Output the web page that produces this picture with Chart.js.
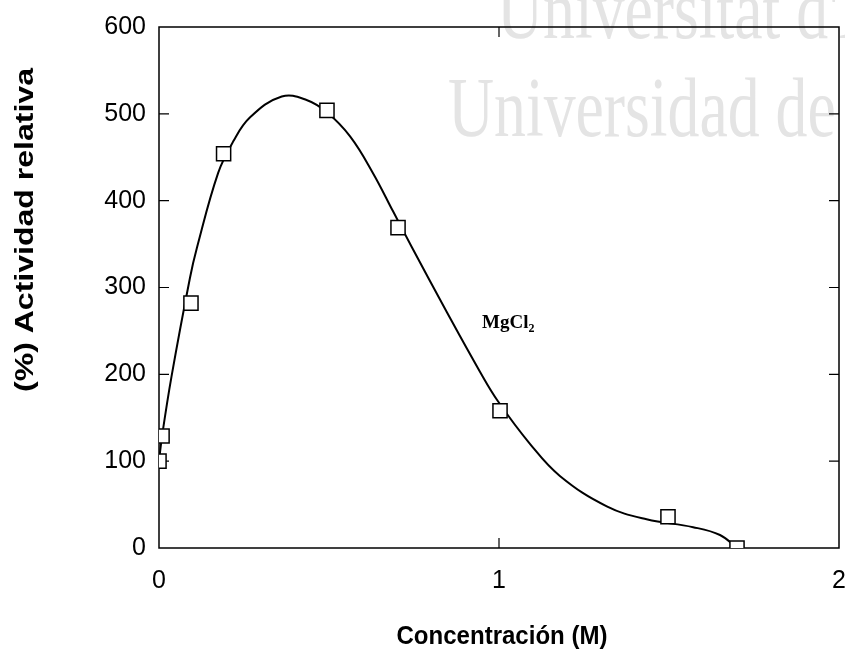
<!DOCTYPE html>
<html>
<head>
<meta charset="utf-8">
<script src="https://cdn.jsdelivr.net/npm/chart.js"></script>
<style>
  html, body { margin: 0; padding: 0; background: #fff; }
</style>
</head>
<body>
<canvas id="grafico" width="845" height="651"></canvas>
<script>
// Actividad relativa frente a la concentración de MgCl2
const concentracion = [0, 0.009, 0.094, 0.19, 0.494, 0.703, 1.003, 1.497, 1.70];
const actividad = [100, 129, 282, 454, 504, 369, 158, 36, 0];

// Curva de ajuste, punto a punto
const ajusteX = [0, 0.009, 0.037, 0.091, 0.111, 0.174, 0.218, 0.268, 0.361, 0.434, 0.493, 0.562,
                 0.629, 0.688, 0.743, 0.846, 0.944, 0.997, 1.091, 1.179, 1.317, 1.434, 1.571, 1.65, 1.70];
const ajusteY = [100, 129, 198, 311, 345, 432, 468, 496, 520, 516, 502, 474,
                 432, 388, 347, 272, 203, 169, 120, 83, 48, 33, 24, 15, 0];

const ticksX = [0, 1, 2];
const ticksY = [0, 100, 200, 300, 400, 500, 600];

const tituloX = 'Concentración (M)';
const tituloY = '(%) Actividad relativa';
const marcaSerie = ['MgCl', '2'];
const marcaEn = { x: 0.95, y: 253 };
const agua = ["Universitat d'Alacant", 'Universidad de Alicante'];

const SANS = '"Liberation Sans", Arial, sans-serif';
const SERIF = '"Liberation Serif", "Times New Roman", serif';

// fondo blanco y marca de agua
const fondo = {
    id: 'fondo',
    beforeDraw(chart) {
        const ctx = chart.ctx;
        ctx.save();
        ctx.fillStyle = '#fff';
        ctx.fillRect(0, 0, chart.width, chart.height);
        ctx.fillStyle = '#e4e4e4';
        ctx.font = '85px ' + SERIF;
        ctx.textBaseline = 'alphabetic';
        ctx.save(); ctx.translate(497, 38); ctx.scale(0.75, 1); ctx.fillText(agua[0], 0, 0); ctx.restore();
        ctx.save(); ctx.translate(448, 136); ctx.scale(0.75, 1); ctx.fillText(agua[1], 0, 0); ctx.restore();
        ctx.restore();
    }
};

// marco completo con marcas hacia dentro
const marco = {
    id: 'marco',
    beforeDatasetsDraw(chart) {
        const { ctx, chartArea: a, scales } = chart;
        const largo = 10;
        ctx.save();
        ctx.strokeStyle = '#000';
        ctx.lineWidth = 1.5;
        ctx.strokeRect(a.left, a.top, a.right - a.left, a.bottom - a.top);
        ctx.lineWidth = 1.2;
        ctx.beginPath();
        ticksY.slice(1, -1).forEach(v => {
            const py = scales.y.getPixelForValue(v);
            ctx.moveTo(a.left, py); ctx.lineTo(a.left + largo, py);
            ctx.moveTo(a.right, py); ctx.lineTo(a.right - largo, py);
        });
        ticksX.slice(1, -1).forEach(v => {
            const px = scales.x.getPixelForValue(v);
            ctx.moveTo(px, a.bottom); ctx.lineTo(px, a.bottom - largo);
            ctx.moveTo(px, a.top); ctx.lineTo(px, a.top + largo);
        });
        ctx.stroke();
        ctx.restore();
    }
};

// títulos de los ejes y rótulo de la serie
const textos = {
    id: 'textos',
    afterDraw(chart) {
        const { ctx, scales } = chart;
        ctx.save();
        ctx.fillStyle = '#000';
        ctx.textAlign = 'center';
        ctx.textBaseline = 'alphabetic';
        ctx.font = 'bold 26px ' + SANS;

        ctx.save();
        ctx.translate(502, 644);
        ctx.scale(211 / ctx.measureText(tituloX).width, 1);
        ctx.fillText(tituloX, 0, 0);
        ctx.restore();

        ctx.save();
        ctx.translate(33, 230);
        ctx.rotate(-Math.PI / 2);
        ctx.scale(324 / ctx.measureText(tituloY).width, 1);
        ctx.fillText(tituloY, 0, 0);
        ctx.restore();

        const px = scales.x.getPixelForValue(marcaEn.x);
        const py = scales.y.getPixelForValue(marcaEn.y);
        ctx.textAlign = 'left';
        ctx.font = 'bold 19px ' + SERIF;
        ctx.fillText(marcaSerie[0], px, py);
        const w = ctx.measureText(marcaSerie[0]).width;
        ctx.font = 'bold 12px ' + SERIF;
        ctx.fillText(marcaSerie[1], px + w, py + 4);
        ctx.restore();
    }
};

const puntos = concentracion.map((c, i) => ({ x: c, y: actividad[i] }));
const curva = ajusteX.map((c, i) => ({ x: c, y: ajusteY[i] }));

new Chart(document.getElementById('grafico'), {
    type: 'scatter',
    data: {
        datasets: [{
            label: 'MgCl2',
            data: puntos,
            pointStyle: 'rect',
            pointRadius: 10,
            pointBackgroundColor: '#fff',
            pointBorderColor: '#000',
            pointBorderWidth: 1.5,
            showLine: false
        }, {
            label: 'ajuste',
            data: curva,
            showLine: true,
            borderColor: '#000',
            borderWidth: 2,
            pointRadius: 0,
            tension: 0.4
        }]
    },
    options: {
        responsive: false,
        animation: false,
        devicePixelRatio: 1,
        layout: { autoPadding: false, padding: { top: 27, right: 6, bottom: 0, left: 0 } },
        plugins: {
            legend: { display: false },
            tooltip: { enabled: false }
        },
        scales: {
            x: {
                type: 'linear',
                min: 0, max: 2,
                grid: { display: false, drawTicks: false },
                border: { display: false },
                afterBuildTicks: s => { s.ticks = ticksX.map(v => ({ value: v })); },
                afterFit: s => { s.height = 103; s.paddingLeft = 0; s.paddingRight = 0; },
                ticks: {
                    color: '#000',
                    padding: 18,
                    maxRotation: 0,
                    font: { family: SANS, size: 25 },
                    callback: v => String(v)
                }
            },
            y: {
                type: 'linear',
                min: 0, max: 600,
                grid: { display: false, drawTicks: false },
                border: { display: false },
                afterBuildTicks: s => { s.ticks = ticksY.map(v => ({ value: v })); },
                afterFit: s => { s.width = 159; s.paddingTop = 0; s.paddingBottom = 0; },
                ticks: {
                    color: '#000',
                    padding: 13,
                    font: { family: SANS, size: 25 },
                    callback: v => String(v)
                }
            }
        }
    },
    plugins: [fondo, marco, textos]
});
</script>
</body>
</html>
